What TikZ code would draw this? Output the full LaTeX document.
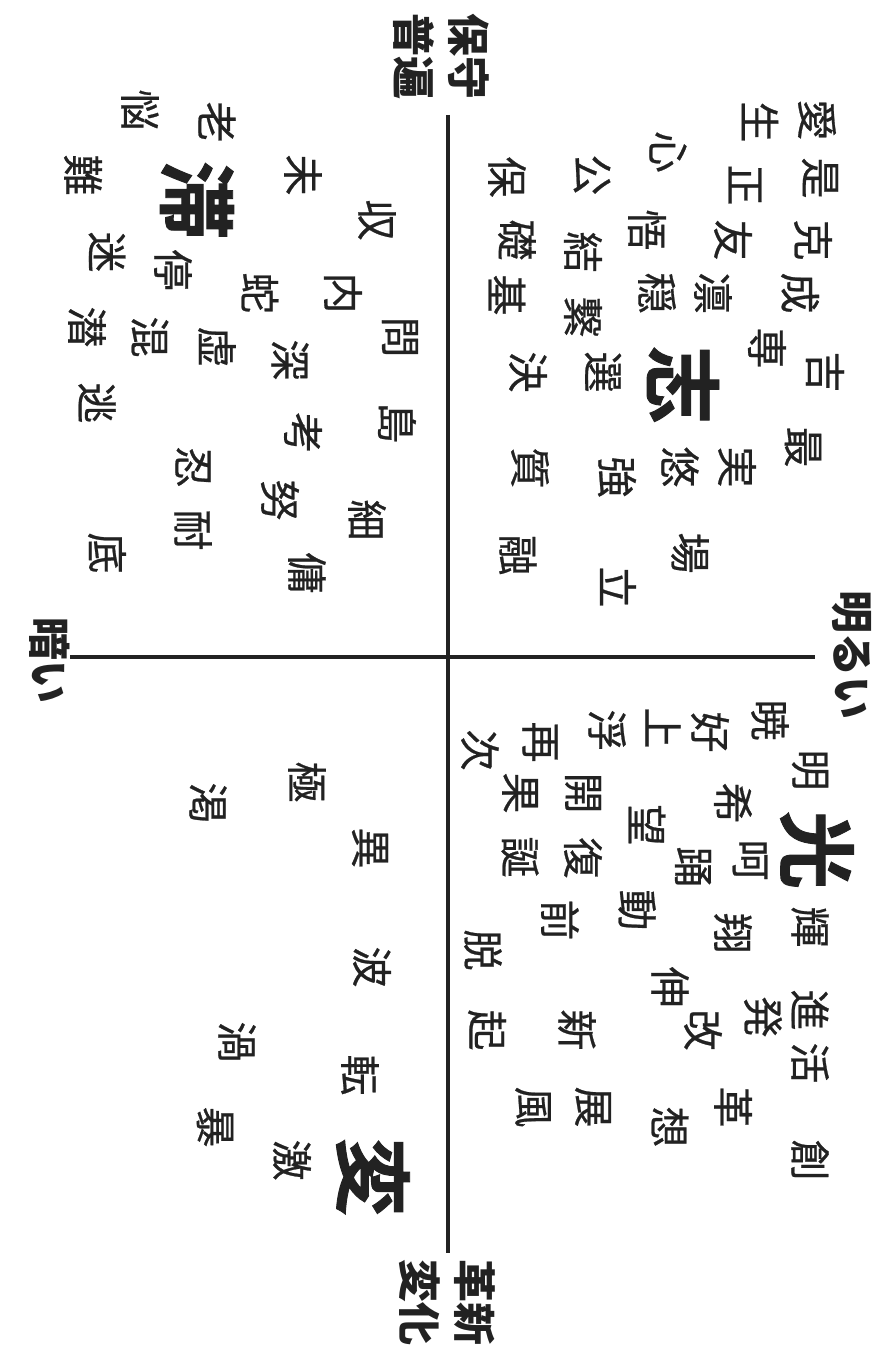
\documentclass[tikz,border=0pt]{standalone}
\usepackage{fontspec}
\newfontfamily\jp{Noto Sans CJK JP}
\newfontfamily\jpm{Noto Sans CJK JP}[FakeBold=0.6]
\newfontfamily\jpb{Noto Sans CJK JP}[UprightFont={* Bold},FakeBold=1.2]
\definecolor{ink}{HTML}{222222}
\begin{document}
\begin{tikzpicture}[x=1pt,y=-1pt,
  k/.style={font=\jpm\fontsize{41}{41}\selectfont, rotate=-90, inner sep=0pt, text=ink},
  big/.style={font=\jpb\fontsize{78}{78}\selectfont, rotate=-90, inner sep=0pt, text=ink},
  lab/.style={font=\jp\bfseries\fontsize{43}{43}\selectfont, rotate=-90, inner sep=0pt, text=ink},
  axis/.style={line width=4pt, draw=ink}]
\fill[white] (0,0) rectangle (882,1359);
\useasboundingbox (0,0) rectangle (882,1359);
% axes
\coordinate (vtop) at (448,115);
\coordinate (vbot) at (448,1253);
\coordinate (hl) at (70,657);
\coordinate (hr) at (815,657);
\draw[axis] (vtop) -- (vbot);
\draw[axis] (hl) -- (hr);
% axis labels
\node[lab] (hoshu) at (469,57) {保守};
\node[lab] (fuhen) at (414,57) {普遍};
\node[lab] (kakushin) at (475,1302) {革新};
\node[lab] (henka) at (420,1302) {変化};
\node[lab] (akarui) at (852,655) {明るい};
\node[lab] (kurai) at (50,660) {暗い};
% big characters
\node[big] (kokorozashi) at (683,385) {志};
\node[big] (todokoori) at (197,200) {滞};
\node[big] (hikari) at (817,850) {光};
\node[big] (hen) at (373,1177) {変};
% kanji
\foreach \x/\y/\c [count=\i] in {
 817/120/愛, 760/122/生, 820/178/是, 745/185/正, 668/152/心, 592/175/公, 507/177/保,
 813/240/克, 733/240/友, 647/230/悟, 583/252/結, 517/240/礎,
 800/293/成, 713/293/凛, 657/293/穏, 583/317/繋, 507/295/基,
 767/348/専, 825/372/吉, 603/372/選, 528/372/決,
 803/447/最, 737/467/実, 680/467/悠, 617/477/強, 530/468/質,
 690/553/場, 618/587/立, 518/555/融,
 140/110/悩, 217/122/老, 83/175/難, 303/175/未, 377/220/収,
 107/252/迷, 173/270/停, 260/293/蛇, 343/293/内, 400/337/問,
 87/327/潜, 150/337/混, 217/347/虚, 290/360/深,
 97/403/逃, 397/423/島, 303/433/考, 193/467/忍, 280/500/努,
 367/520/細, 193/530/耐, 107/553/底, 307/573/傭,
 770/720/暁, 710/732/好, 663/728/上, 607/730/浮, 540/742/再, 480/750/次,
 810/770/明, 733/803/希, 583/793/開, 520/793/果, 647/825/望,
 750/860/呵, 693/867/踊, 583/858/復, 520/857/誕,
 637/910/動, 560/920/前, 810/927/輝, 733/933/翔, 483/950/脱,
 670/987/伸, 810/1010/進, 763/1017/発, 703/1030/改, 577/1030/新, 487/1030/起,
 810/1063/活, 733/1107/革, 593/1107/展, 533/1107/風, 670/1127/想, 810/1160/創,
 307/782/極, 208/803/渇, 370/848/異, 372/967/波,
 237/1042/渦, 360/1075/転, 215/1127/暴, 292/1160/激}
 \node[k] (k\i) at (\x,\y) {\c};
\end{tikzpicture}
\end{document}
